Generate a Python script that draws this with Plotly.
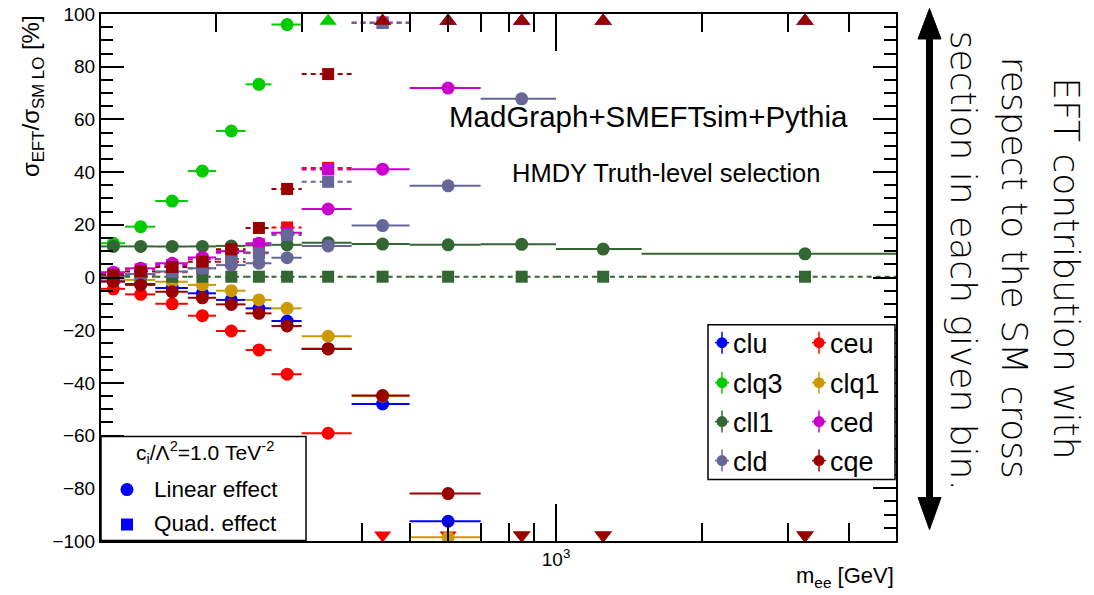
import plotly.graph_objects as go

# ---------------- data ----------------
bin_edges = [116, 130, 150, 175, 200, 230, 260, 300, 380, 500, 700, 1000, 1500, 5000]

# relative EFT contribution [%] per bin (values beyond +-100 are off-scale estimates)
clu_lin  = [-1.5, -2.5, -4.0, -6.0, -8.5, -11.7, -16.5, -27.0, -48.0, -92.5, -150, -150, -150]
ceu_lin  = [-4.3, -6.4, -10.0, -14.5, -20.3, -27.5, -36.7, -59.1, -150, -150, -150, -150, -150]
clq3_lin = [13.0, 19.3, 29.0, 40.4, 55.6, 73.3, 96.0, 150, 150, 150, 150, 150, 150]
clq1_lin = [-0.5, -0.9, -1.6, -2.8, -5.0, -8.5, -11.7, -22.3, -45.0, -98.6, -150, -150, -150]
cll1_lin = [11.8, 11.8, 11.8, 11.8, 12.0, 12.2, 12.4, 13.2, 12.7, 12.4, 12.6, 10.8, 9.0]
ced_lin  = [2.0, 3.5, 5.4, 7.6, 10.0, 13.0, 17.0, 26.0, 41.1, 71.9, 150, 150, 150]
cld_lin  = [0.5, 1.3, 2.3, 3.5, 4.7, 5.4, 7.5, 12.0, 19.7, 34.8, 67.8, 150, 150]
cqe_lin  = [-1.5, -2.8, -5.4, -7.7, -10.2, -13.6, -18.4, -27.1, -44.8, -82.0, -150, -150, -150]

ceu_quad  = [0.5, 1.0, 2.0, 3.5, 6.0, 9.5, 19.0, 41.6, 150, 150, 150, 150, 150]
cll1_quad = [0.3, 0.3, 0.3, 0.3, 0.3, 0.3, 0.3, 0.3, 0.3, 0.3, 0.3, 0.3, 0.3]
ced_quad  = [1.5, 3.1, 4.7, 6.9, 9.4, 12.6, 16.8, 41.0, 96.8, 150, 150, 150, 150]
cld_quad  = [0.3, 1.0, 2.2, 3.5, 7.0, 9.2, 16.1, 36.3, 96.6, 150, 150, 150, 150]
cqe_quad  = [1.0, 2.3, 4.0, 6.0, 10.7, 18.8, 33.6, 77.2, 150, 150, 150, 150, 150]

legend_names = ["clu", "ceu", "clq3", "clq1", "cll1", "ced", "cld", "cqe"]
x_tick_vals = [1000]
x_tick_text = ["10<sup>3</sup>"]
x_minor_vals = [200, 300, 400, 500, 600, 700, 800, 900, 2000, 3000, 4000]
y_tick_vals = [-100, -80, -60, -40, -20, 0, 20, 40, 60, 80, 100]

# ---------------- styles ----------------
colors = {
    "clu": "#0000ff", "ceu": "#ff0000", "clq3": "#00cc00", "clq1": "#cc9900",
    "cll1": "#336633", "ced": "#cc00cc", "cld": "#666699", "cqe": "#990000",
}
series = [
    ("clu", clu_lin, None),
    ("ceu", ceu_lin, ceu_quad),
    ("clq3", clq3_lin, None),
    ("clq1", clq1_lin, None),
    ("cll1", cll1_lin, cll1_quad),
    ("ced", ced_lin, ced_quad),
    ("cld", cld_lin, cld_quad),
    ("cqe", cqe_lin, cqe_quad),
]

FONT = "Liberation Sans, Arial, Helvetica, sans-serif"
OFF = 8                      # page body margin of the html page
PAGE_W, PAGE_H = 1094, 595
W, H = PAGE_W - OFF, PAGE_H - OFF
# plot frame in page pixels
L, R, T, B = 101, 896, 14, 541.5


def px(x):
    return (x - L) / (R - L)


def py(y):
    return (B - y) / (B - T)


centers = [(a + b) / 2 for a, b in zip(bin_edges[:-1], bin_edges[1:])]
YMAX, YMIN = 100, -100
UP_POS, DOWN_POS = 97.3, -97.8

fig = go.Figure()


def add_series(name, vals, quad):
    col = colors[name]
    bx, by = [], []
    mx, my, ms = [], [], []
    for i, v in enumerate(vals):
        c = centers[i]
        if v > YMAX:
            mx.append(c); my.append(UP_POS); ms.append("triangle-up")
        elif v < YMIN:
            mx.append(c); my.append(DOWN_POS); ms.append("triangle-down")
        else:
            bx += [bin_edges[i], bin_edges[i + 1], None]
            by += [v, v, None]
            mx.append(c); my.append(v); ms.append("square" if quad else "circle")
    fig.add_trace(go.Scatter(
        x=bx, y=by, mode="lines", hoverinfo="skip", showlegend=False,
        line=dict(color=col, width=2, dash="5px,4px" if quad else "solid")))
    sizes = [15 if s.startswith("triangle") else (12 if s == "square" else 13) for s in ms]
    fig.add_trace(go.Scatter(
        x=mx, y=my, mode="markers", showlegend=False, name=name,
        marker=dict(color=col, symbol=ms, size=sizes, opacity=1, line=dict(width=0))))


for name, lin, quad in series:
    add_series(name, lin, False)
    if quad is not None:
        add_series(name, quad, True)

shapes = []
annotations = []

# ---- right legend box ----
shapes.append(dict(type="rect", xref="paper", yref="paper",
                   x0=px(708), x1=px(895), y0=py(480), y1=py(325),
                   fillcolor="white", line=dict(color="black", width=1.5), layer="above"))
rows_y = [343, 383, 422, 461]
cols_x = [722, 819]
for k, name in enumerate(legend_names):
    r, c = divmod(k, 2)
    cx, cy = cols_x[c], rows_y[r]
    col = colors[name]
    shapes.append(dict(type="line", xref="paper", yref="paper", layer="above",
                       x0=px(cx), x1=px(cx), y0=py(cy - 11), y1=py(cy + 11),
                       line=dict(color=col, width=1.5)))
    shapes.append(dict(type="line", xref="paper", yref="paper", layer="above",
                       x0=px(cx - 7), x1=px(cx + 7), y0=py(cy), y1=py(cy),
                       line=dict(color=col, width=1.5)))
    shapes.append(dict(type="circle", xref="paper", yref="paper", layer="above",
                       x0=px(cx - 5.5), x1=px(cx + 5.5), y0=py(cy + 5.5), y1=py(cy - 5.5),
                       fillcolor=col, line=dict(width=0)))
    annotations.append(dict(text=name, xref="paper", yref="paper", x=px(cx + 9), y=py(cy + 1),
                            xanchor="left", yanchor="middle", showarrow=False,
                            font=dict(family=FONT, size=27, color="black")))

# ---- left bottom box ----
shapes.append(dict(type="rect", xref="paper", yref="paper",
                   x0=px(101), x1=px(306), y0=py(541), y1=py(437),
                   fillcolor="white", line=dict(color="black", width=1.5), layer="above"))
annotations.append(dict(text="c<sub>i</sub>/Λ<sup>2</sup>=1.0 TeV<sup>-2</sup>",
                        xref="paper", yref="paper", x=px(205), y=py(453),
                        xanchor="center", yanchor="middle", showarrow=False,
                        font=dict(family=FONT, size=21, color="black")))
shapes.append(dict(type="circle", xref="paper", yref="paper", layer="above",
                   x0=px(120.5), x1=px(133.5), y0=py(496.5), y1=py(483.5),
                   fillcolor="#0000ff", line=dict(width=0)))
shapes.append(dict(type="rect", xref="paper", yref="paper", layer="above",
                   x0=px(121), x1=px(133), y0=py(531), y1=py(519),
                   fillcolor="#0000ff", line=dict(width=0)))
annotations.append(dict(text="Linear effect", xref="paper", yref="paper", x=px(152), y=py(490),
                        xanchor="left", yanchor="middle", showarrow=False,
                        font=dict(family=FONT, size=22.5, color="black")))
annotations.append(dict(text="Quad. effect", xref="paper", yref="paper", x=px(152), y=py(524),
                        xanchor="left", yanchor="middle", showarrow=False,
                        font=dict(family=FONT, size=22.5, color="black")))

# ---- labels inside the frame ----
annotations.append(dict(text="MadGraph+SMEFTsim+Pythia", xref="paper", yref="paper",
                        x=px(648), y=py(117), xanchor="center", yanchor="middle", showarrow=False,
                        font=dict(family=FONT, size=29.5, color="black")))
annotations.append(dict(text="HMDY Truth-level selection", xref="paper", yref="paper",
                        x=px(666), y=py(173), xanchor="center", yanchor="middle", showarrow=False,
                        font=dict(family=FONT, size=25.5, color="black")))

# ---- axis titles ----
annotations.append(dict(text="σ<sub>EFT</sub>/σ<sub>SM LO</sub> [%]", xref="paper", yref="paper",
                        x=px(32), y=py(13), xanchor="center", yanchor="top", textangle=-90,
                        showarrow=False, font=dict(family=FONT, size=24, color="black")))
annotations.append(dict(text="m<sub>ee</sub> [GeV]", xref="paper", yref="paper",
                        x=px(896), y=py(578), xanchor="right", yanchor="middle",
                        showarrow=False, font=dict(family=FONT, size=22, color="black")))

# ---- big arrow on the right ----
ax_x = 929.5
shapes.append(dict(type="line", xref="paper", yref="paper", x0=px(ax_x), x1=px(ax_x),
                   y0=py(34), y1=py(502), line=dict(color="black", width=7)))
shapes.append(dict(type="path", xref="paper", yref="paper", fillcolor="black",
                   line=dict(color="black", width=1),
                   path=f"M {px(ax_x)},{py(8.5)} L {px(ax_x - 11.5)},{py(39)} L {px(ax_x + 11.5)},{py(39)} Z"))
shapes.append(dict(type="path", xref="paper", yref="paper", fillcolor="black",
                   line=dict(color="black", width=1),
                   path=f"M {px(ax_x)},{py(530)} L {px(ax_x - 11.5)},{py(498)} L {px(ax_x + 11.5)},{py(498)} Z"))

side_lines = ["EFT contribution with", "respect to the SM cross", "section in each given bin."]
side_x = [1066.5, 1014, 963]
side_y = [268, 268, 261]
for t, xx, yy in zip(side_lines, side_x, side_y):
    annotations.append(dict(text=t, xref="paper", yref="paper", x=px(xx), y=py(yy),
                            xanchor="center", yanchor="middle", textangle=90, showarrow=False,
                            font=dict(family="DejaVu Sans", size=36, color="black", weight=300)))

fig.update_layout(
    width=W, height=H,
    margin=dict(l=L - OFF, r=(PAGE_W - R), t=T - OFF, b=(PAGE_H - B), pad=0, autoexpand=False),
    paper_bgcolor="white", plot_bgcolor="white",
    showlegend=False,
    shapes=shapes, annotations=annotations,
    xaxis=dict(
        type="log", range=[2.0645, 3.69897], automargin=False,
        showgrid=False, zeroline=False, ticklabeloverflow="allow",
        showline=True, linecolor="black", linewidth=2, mirror="allticks",
        ticks="inside", ticklen=37, tickwidth=1.5, tickcolor="black",
        tickmode="array", tickvals=x_tick_vals, ticktext=x_tick_text,
        tickfont=dict(family=FONT, size=19, color="black"),
        minor=dict(tickmode="array", tickvals=x_minor_vals,
                   ticks="inside", ticklen=18, tickwidth=1.5, tickcolor="black", showgrid=False),
    ),
    yaxis=dict(
        range=[YMIN, YMAX], showgrid=False, zeroline=False, automargin=False,
        ticklabeloverflow="allow",
        showline=True, linecolor="black", linewidth=2, mirror="allticks",
        ticks="inside", ticklen=23, tickwidth=1.5, tickcolor="black",
        tickmode="array", tickvals=y_tick_vals,
        tickfont=dict(family=FONT, size=19, color="black"),
        minor=dict(dtick=5, ticks="inside", ticklen=12, tickwidth=1.5, tickcolor="black",
                   showgrid=False),
    ),
)

fig.write_html("out.html")
